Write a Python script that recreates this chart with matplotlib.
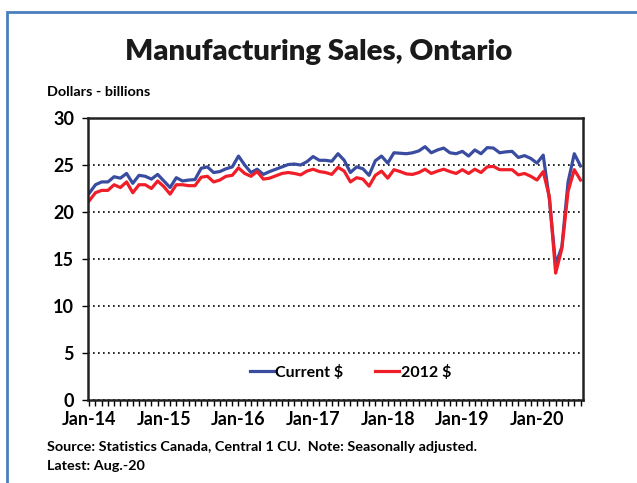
import matplotlib.pyplot as plt
from matplotlib.patches import Rectangle
from matplotlib.lines import Line2D
import numpy as np

plt.rcParams['font.family'] = ['Lato', 'DejaVu Sans']
plt.rcParams['font.weight'] = 'bold'

# monthly values, Jan-14 .. Aug-20 (billions of dollars)
current = [
    22.0, 22.9, 23.2, 23.2, 23.75, 23.6, 24.1, 23.05, 23.9, 23.8, 23.5, 24.0,
    23.3, 22.6, 23.65, 23.3, 23.4, 23.45, 24.65, 24.8, 24.2, 24.3, 24.6, 24.8,
    25.95, 25.0, 24.2, 24.55, 24.0, 24.3, 24.55, 24.8, 25.05, 25.1, 25.0, 25.35,
    25.9, 25.5, 25.5, 25.4, 26.2, 25.5, 24.2, 24.8, 24.6, 23.9, 25.45, 25.95,
    25.2, 26.3, 26.25, 26.2, 26.3, 26.5, 26.95, 26.3, 26.6, 26.8, 26.3, 26.2,
    26.45, 25.95, 26.6, 26.2, 26.85, 26.8, 26.3, 26.4, 26.45, 25.8, 26.0, 25.7,
    25.2, 26.05, 21.3, 14.4, 16.3, 23.2, 26.2, 24.9,
]
real_2012 = [
    21.2, 22.05, 22.3, 22.3, 22.9, 22.6, 23.2, 22.05, 22.9, 22.9, 22.5, 23.3,
    22.7, 21.9, 22.9, 22.9, 22.8, 22.8, 23.7, 23.8, 23.2, 23.4, 23.8, 23.9,
    24.7, 24.1, 23.8, 24.3, 23.5, 23.6, 23.85, 24.1, 24.2, 24.1, 23.95, 24.35,
    24.55, 24.3, 24.2, 24.0, 24.75, 24.35, 23.2, 23.65, 23.5, 22.75, 23.9, 24.35,
    23.6, 24.5, 24.3, 24.05, 24.0, 24.2, 24.55, 24.1, 24.35, 24.55, 24.3, 24.1,
    24.5, 24.1, 24.55, 24.2, 24.8, 24.85, 24.5, 24.5, 24.5, 23.95, 24.1, 23.8,
    23.4, 24.3, 21.6, 13.5, 16.1, 22.2, 24.5, 23.4,
]
year_labels = ["Jan-14", "Jan-15", "Jan-16", "Jan-17", "Jan-18", "Jan-19", "Jan-20"]
y_ticks = [0, 5, 10, 15, 20, 25, 30]

months = np.arange(len(current))

fig = plt.figure(figsize=(6.37, 4.83), dpi=100)
ax = fig.add_axes([88 / 637, 83 / 483, 495 / 637, 282 / 483])

# outer chart border (only left/top edges visible in the crop)
fig.patches.append(Rectangle((7 / 637, -0.1), 1.2, 0.1 + 471 / 483,
                             transform=fig.transFigure, fill=False,
                             edgecolor='#4a7ebb', linewidth=2))

blue = '#3a4ca0'
red = '#f01e28'
ax.plot(months, current, color=blue, linewidth=2.3)
ax.plot(months, real_2012, color=red, linewidth=2.3)

ax.set_xlim(-0.2, 79.4)
ax.set_ylim(0, 30)
ax.set_yticks(y_ticks)
ax.set_xticks(months, minor=True)
ax.set_xticks(np.arange(0, len(current), 12))
ax.set_xticklabels(year_labels)
ax.tick_params(axis='x', which='both', direction='out', length=4, width=1, labelsize=13, pad=4)
ax.tick_params(axis='y', direction='out', length=4, width=1, labelsize=13, pad=6)
for lab in ax.get_xticklabels() + ax.get_yticklabels():
    lab.set_fontweight('bold')

ax.yaxis.grid(True, linestyle=(0, (1, 2)), color='black', linewidth=1.2)
for s in ax.spines.values():
    s.set_linewidth(1.8)
    s.set_color('#222222')

handles = [Line2D([0], [0], color=blue, lw=2.3), Line2D([0], [0], color=red, lw=2.3)]
ax.legend(handles, ['Current $', '2012 $'], loc='lower center', bbox_to_anchor=(0.53, 0.02),
          ncol=2, frameon=False, handlelength=1.5, handletextpad=0.1, columnspacing=2.0,
          prop={'weight': 'bold', 'size': 11.5})

fig.text(0.5, 1 - 52 / 483, 'Manufacturing Sales, Ontario', ha='center', va='center',
         fontsize=21.2, fontweight='heavy', color='#1a1a1a')
fig.text(47 / 637, 1 - 92 / 483, 'Dollars - billions', ha='left', va='center',
         fontsize=10.4, fontweight='bold')
fig.text(47 / 637, 1 - 447 / 483, 'Source: Statistics Canada, Central 1 CU.  Note: Seasonally adjusted.',
         ha='left', va='center', fontsize=10.4, fontweight='bold')
fig.text(47 / 637, 1 - 466 / 483, 'Latest: Aug.-20', ha='left', va='center',
         fontsize=10.4, fontweight='bold')

fig.savefig('out.png', dpi=100)
